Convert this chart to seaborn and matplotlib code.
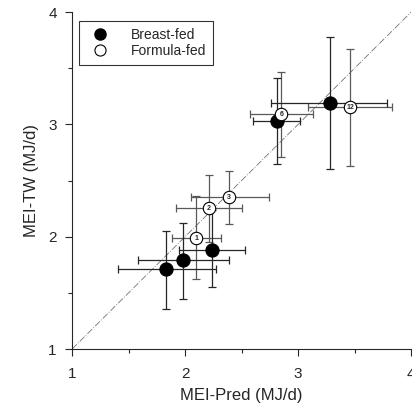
import pandas as pd
import numpy as np
import matplotlib
matplotlib.use("Agg")
import matplotlib.pyplot as plt
import seaborn as sns
from matplotlib.lines import Line2D

# Data (MJ/d)
breast_pred = [1.83, 1.985, 2.235, 2.81, 3.28]
breast_tw = [1.71, 1.79, 1.88, 3.03, 3.19]
breast_x_lo = [1.41, 1.58, 1.95, 2.60, 2.76]
breast_x_hi = [2.27, 2.39, 2.53, 3.02, 3.79]
breast_y_lo = [1.36, 1.445, 1.555, 2.65, 2.60]
breast_y_hi = [2.05, 2.12, 2.24, 3.41, 3.78]

formula_pred = [2.10, 2.21, 2.39, 2.85, 3.46]
formula_tw = [1.985, 2.255, 2.35, 3.09, 3.15]
formula_x_lo = [1.88, 1.92, 2.05, 2.57, 3.09]
formula_x_hi = [2.32, 2.50, 2.74, 3.13, 3.83]
formula_y_lo = [1.62, 1.955, 2.11, 2.71, 2.63]
formula_y_hi = [2.36, 2.55, 2.585, 3.47, 3.67]
formula_labels = ["1", "2", "3", "6", "12"]

df = pd.DataFrame({
    "pred": breast_pred + formula_pred,
    "tw": breast_tw + formula_tw,
    "group": ["Breast-fed"] * 5 + ["Formula-fed"] * 5,
})

sns.set_style("ticks")
plt.rcParams["font.family"] = ["Liberation Sans", "DejaVu Sans"]

fig = plt.figure(figsize=(4.12, 4.07), dpi=100)
ax = fig.add_axes([0.175, 0.1425, 0.823, 0.828])

# identity line
ax.plot([1, 4], [1, 4], color="0.45", lw=0.6, ls=(0, (8, 2, 1, 2)), zorder=1)

def bars(x, y, xlo, xhi, ylo, yhi, col):
    x = np.array(x); y = np.array(y)
    xerr = [x - np.array(xlo), np.array(xhi) - x]
    yerr = [y - np.array(ylo), np.array(yhi) - y]
    ax.errorbar(x, y, xerr=xerr, yerr=yerr, fmt="none", ecolor=col,
                elinewidth=0.9, capsize=3, capthick=0.9, zorder=2)

bars(formula_pred, formula_tw, formula_x_lo, formula_x_hi,
     formula_y_lo, formula_y_hi, "0.35")
bars(breast_pred, breast_tw, breast_x_lo, breast_x_hi,
     breast_y_lo, breast_y_hi, "0.15")

sns.scatterplot(data=df[df.group == "Breast-fed"], x="pred", y="tw",
                color="black", s=90, edgecolor="black", linewidth=0.8,
                ax=ax, zorder=4, legend=False)
sns.scatterplot(data=df[df.group == "Formula-fed"], x="pred", y="tw",
                color="white", s=80, edgecolor="black", linewidth=0.8,
                ax=ax, zorder=4, legend=False)
for xp, yp, lab in zip(formula_pred, formula_tw, formula_labels):
    ax.text(xp, yp, lab, fontsize=5, fontweight="bold",
            ha="center", va="center", zorder=5)

ax.set_xlim(1, 4)
ax.set_ylim(1, 4)
ax.set_xticks([1, 2, 3, 4])
ax.set_yticks([1, 2, 3, 4])
ax.set_xticks([1.5, 2.5, 3.5], minor=True)
ax.set_yticks([1.5, 2.5, 3.5], minor=True)
ax.tick_params(which="major", length=5, width=0.8, labelsize=11, direction="out")
ax.tick_params(which="minor", length=3, width=0.8, direction="out")
ax.tick_params(axis="x", pad=8)
ax.tick_params(axis="y", pad=6)
for s in ["top", "right"]:
    ax.spines[s].set_visible(False)
for s in ["left", "bottom"]:
    ax.spines[s].set_linewidth(0.8)

ax.set_xlabel("MEI-Pred (MJ/d)", fontsize=12, labelpad=5)
ax.set_ylabel("MEI-TW (MJ/d)", fontsize=12, labelpad=7)

handles = [
    Line2D([], [], marker="o", ls="none", color="black", markersize=8),
    Line2D([], [], marker="o", ls="none", markerfacecolor="white",
           markeredgecolor="black", markersize=8, markeredgewidth=0.8),
]
leg = ax.legend(handles, ["Breast-fed", "Formula-fed"], loc="upper left",
                bbox_to_anchor=(0.0, 0.995), fontsize=10, frameon=True,
                fancybox=False, edgecolor="black", handletextpad=1.2,
                borderpad=0.5, labelspacing=0.2)
leg.get_frame().set_linewidth(0.8)

fig.savefig("out.png", dpi=100)
